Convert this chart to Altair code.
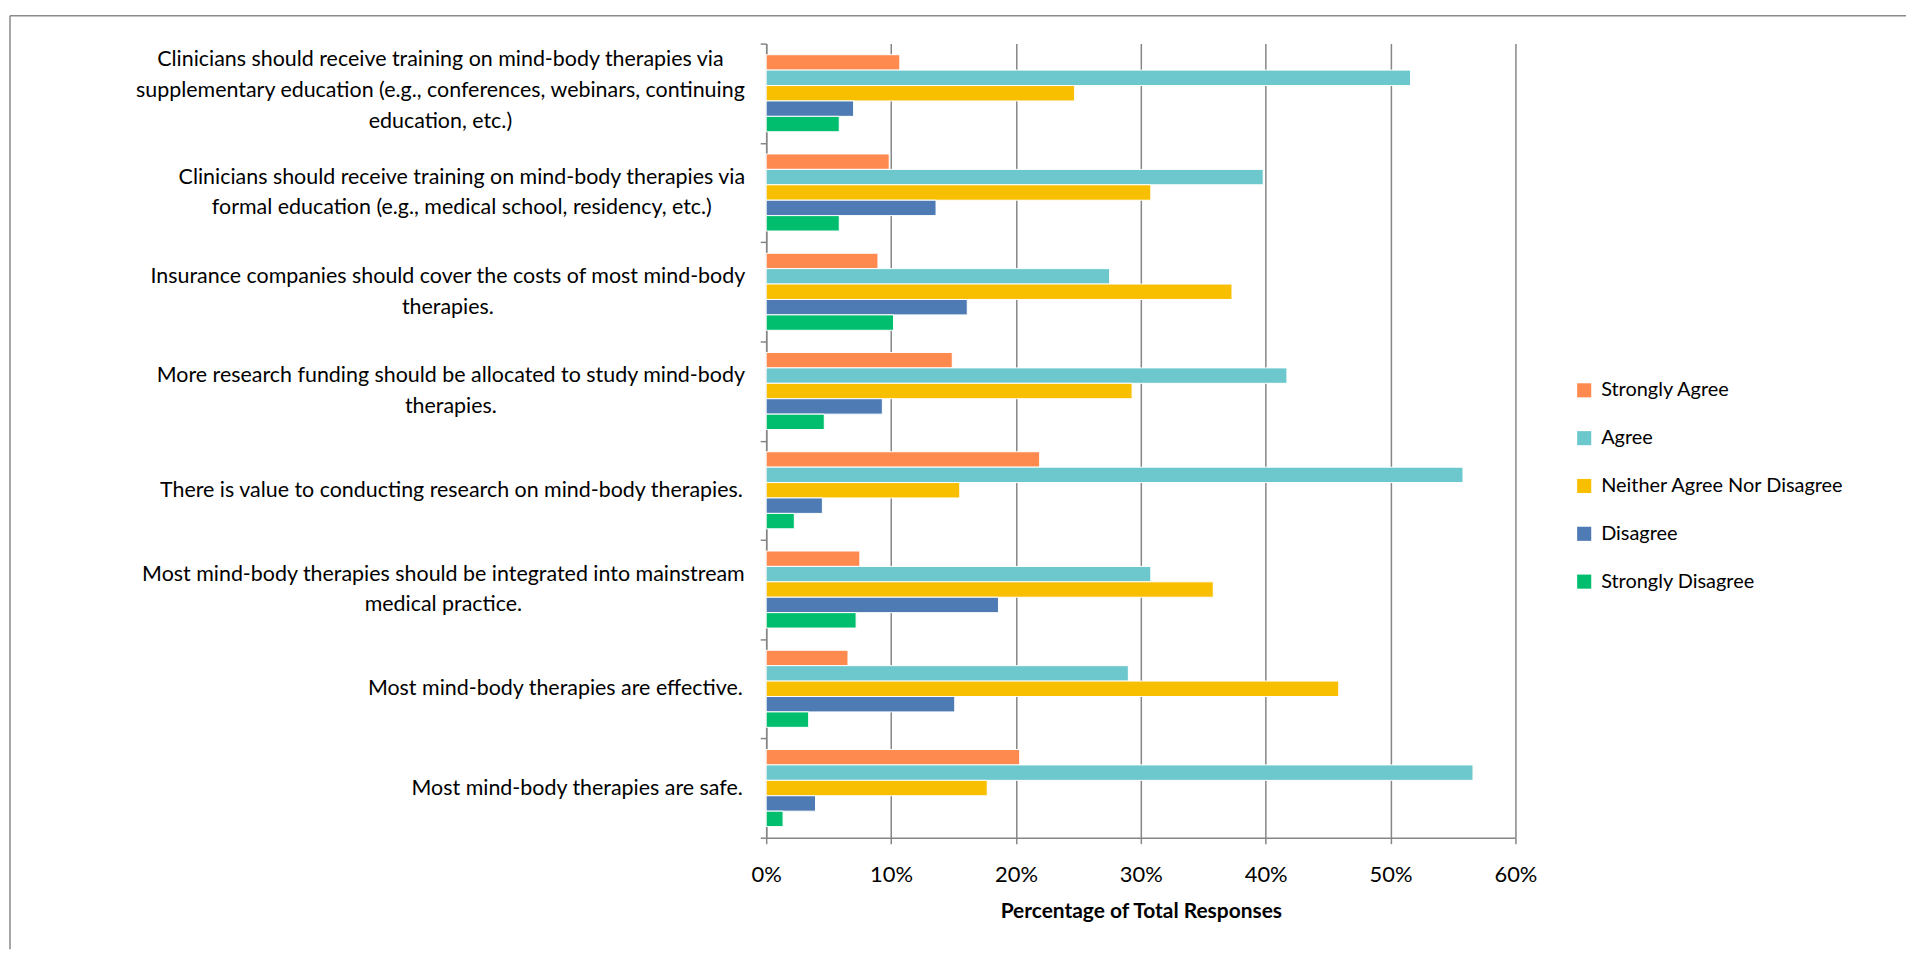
import altair as alt
import pandas as pd

label_lines = [
    ["Clinicians should receive training on mind-body therapies via",
     "supplementary education (e.g., conferences, webinars, continuing",
     "education, etc.)"],
    ["Clinicians should receive training on mind-body therapies via",
     "formal education (e.g., medical school, residency, etc.)"],
    ["Insurance companies should cover the costs of most mind-body",
     "therapies."],
    ["More research funding should be allocated to study mind-body",
     "therapies."],
    ["There is value to conducting research on mind-body therapies."],
    ["Most mind-body therapies should be integrated into mainstream",
     "medical practice."],
    ["Most mind-body therapies are effective."],
    ["Most mind-body therapies are safe."],
]
categories = ["\n".join(l) for l in label_lines]

responses = ["Strongly Agree", "Agree", "Neither Agree Nor Disagree", "Disagree", "Strongly Disagree"]
colors = ["#FF8A4F", "#6CC8CC", "#F8BE00", "#4E7BB4", "#00BE6E"]

strongly_agree = [10.7, 9.85, 8.95, 14.9, 21.9, 7.5, 6.55, 20.3]
agree = [51.6, 39.8, 27.5, 41.7, 55.8, 30.8, 29.0, 56.6]
neither = [24.7, 30.8, 37.3, 29.3, 15.5, 35.8, 45.85, 17.7]
disagree = [7.0, 13.6, 16.1, 9.3, 4.5, 18.6, 15.1, 3.95]
strongly_disagree = [5.85, 5.85, 10.2, 4.65, 2.25, 7.2, 3.4, 1.35]

series = [strongly_agree, agree, neither, disagree, strongly_disagree]
rows = []
for r, vals in zip(responses, series):
    for c, v in zip(categories, vals):
        rows.append({"category": c, "response": r, "value": v})
df = pd.DataFrame(rows)

FONT = "Lato"
GRID = "#868686"
LINE_H = 31
PAD = 18
n_lines = "length(split(datum.label, '\\n'))"

# widest-line widths (px) of the wrapped labels, so their lines can be centred
# within the block like the original (Excel) chart
block_widths = {
    "supplementary": 607,
    "formal education": 564,
    "Insurance": 592,
    "More research": 586,
    "mainstream": 601,
}
pad_conditions = [
    {"test": f"indexof(datum.label, '{key}') >= 0", "value": PAD + w / 2}
    for key, w in block_widths.items()
]

bars = alt.Chart(df).mark_bar(stroke="white", strokeWidth=1).encode(
    y=alt.Y("category:N", sort=categories, title=None,
            scale=alt.Scale(paddingInner=0, paddingOuter=0),
            axis=alt.Axis(labelExpr="split(datum.label, '\\n')", labelFont=FONT,
                          labelFontSize=21.5, labelColor="#000000", labelLineHeight=LINE_H,
                          labelAlign={"condition": {"test": n_lines + " > 1", "value": "center"},
                                      "value": "right"},
                          labelPadding={"condition": pad_conditions, "value": PAD},
                          labelLimit=800,
                          labelOffset={"condition": [
                              {"test": n_lines + " == 3", "value": -LINE_H - 3},
                              {"test": n_lines + " == 2", "value": -LINE_H / 2},
                          ], "value": 0},
                          tickBand="extent", tickSize=6, tickColor=GRID, tickWidth=1.5,
                          domainColor=GRID, domainWidth=1.5, grid=False)),
    yOffset=alt.YOffset("response:N", sort=responses,
                        scale=alt.Scale(paddingInner=0, paddingOuter=0.72)),
    x=alt.X("value:Q", scale=alt.Scale(domain=[0, 60], nice=False),
            title="Percentage of Total Responses",
            axis=alt.Axis(values=[0, 10, 20, 30, 40, 50, 60], labelExpr="datum.value + '%'",
                          labelFlush=False,
                          labelFont=FONT, labelFontSize=22, labelColor="#000000",
                          labelPadding=21, tickSize=6, tickColor=GRID, tickWidth=1.5,
                          domainColor=GRID, domainWidth=1.5, gridColor=GRID, gridWidth=1.5,
                          titleFont=FONT, titleFontSize=21, titleFontWeight="bold",
                          titleColor="#000000", titlePadding=15)),
    color=alt.Color("response:N", sort=responses,
                    scale=alt.Scale(domain=responses, range=colors),
                    legend=alt.Legend(title=None, orient="none", legendX=811, legendY=338,
                                      symbolType="square", symbolSize=200,
                                      symbolStrokeWidth=0, labelFont=FONT,
                                      labelFontSize=20, labelColor="#000000",
                                      labelLimit=400,
                                      rowPadding=28, labelOffset=7)),
)

frame_df = pd.DataFrame({"k": [0]})
top_line = alt.Chart(frame_df).mark_rule(color="#8a8a8a", strokeWidth=1.5).encode(
    x=alt.value(-759), x2=alt.value(1144), y=alt.value(-28))
left_line = alt.Chart(frame_df).mark_rule(color="#8a8a8a", strokeWidth=1.5).encode(
    x=alt.value(-759), y=alt.value(-28), y2=alt.value(909))

chart = alt.layer(bars, top_line, left_line).properties(
    width=752, height=797,
    padding={"left": 1, "top": 5, "right": 0, "bottom": 0},
).configure_view(stroke=None)

chart.save("out.html", embed_options={"renderer": "svg", "actions": False})
